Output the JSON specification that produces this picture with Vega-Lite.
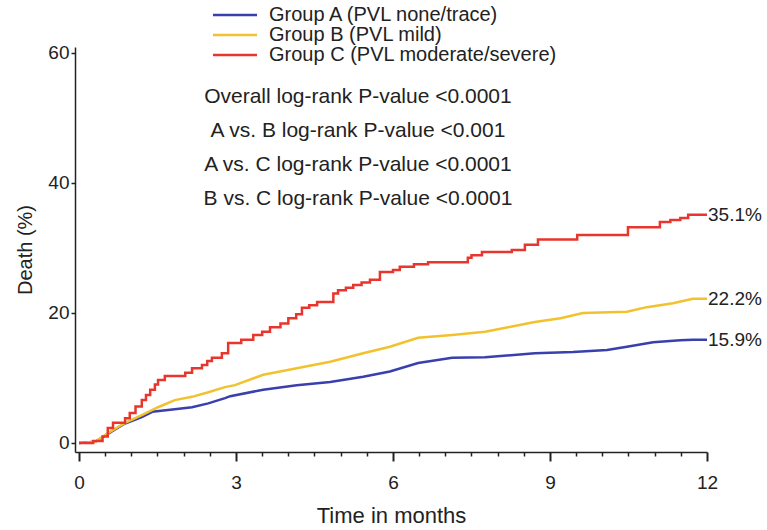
{
  "$schema": "https://vega.github.io/schema/vega-lite/v6.json",
  "width": 632,
  "height": 405,
  "autosize": "none",
  "padding": {"left": 75, "top": 47, "right": 60, "bottom": 78},
  "background": "white",
  "config": {
    "font": "Liberation Sans",
    "view": {"stroke": null},
    "axis": {"grid": false, "domainColor": "#222", "tickColor": "#222", "labelColor": "#222", "titleColor": "#222", "labelFontSize": 19, "titleFontSize": 20, "titleFontWeight": "normal", "domainWidth": 1.5}
  },
  "datasets": {
    "curves": [
      {"group": "Group A (PVL none/trace)", "month": 0, "pct": 0},
      {"group": "Group A (PVL none/trace)", "month": 0.31, "pct": 0.2},
      {"group": "Group A (PVL none/trace)", "month": 0.55, "pct": 1.4},
      {"group": "Group A (PVL none/trace)", "month": 0.88, "pct": 3.0},
      {"group": "Group A (PVL none/trace)", "month": 1.2, "pct": 4.0},
      {"group": "Group A (PVL none/trace)", "month": 1.4, "pct": 4.8},
      {"group": "Group A (PVL none/trace)", "month": 1.83, "pct": 5.2},
      {"group": "Group A (PVL none/trace)", "month": 2.16, "pct": 5.5},
      {"group": "Group A (PVL none/trace)", "month": 2.47, "pct": 6.1},
      {"group": "Group A (PVL none/trace)", "month": 2.79, "pct": 6.9},
      {"group": "Group A (PVL none/trace)", "month": 2.89, "pct": 7.2},
      {"group": "Group A (PVL none/trace)", "month": 3.52, "pct": 8.2},
      {"group": "Group A (PVL none/trace)", "month": 4.16, "pct": 8.9},
      {"group": "Group A (PVL none/trace)", "month": 4.8, "pct": 9.4},
      {"group": "Group A (PVL none/trace)", "month": 5.43, "pct": 10.2},
      {"group": "Group A (PVL none/trace)", "month": 5.94, "pct": 11.0},
      {"group": "Group A (PVL none/trace)", "month": 6.48, "pct": 12.3},
      {"group": "Group A (PVL none/trace)", "month": 7.13, "pct": 13.1},
      {"group": "Group A (PVL none/trace)", "month": 7.76, "pct": 13.2},
      {"group": "Group A (PVL none/trace)", "month": 8.71, "pct": 13.8},
      {"group": "Group A (PVL none/trace)", "month": 9.44, "pct": 14.0},
      {"group": "Group A (PVL none/trace)", "month": 10.09, "pct": 14.3},
      {"group": "Group A (PVL none/trace)", "month": 10.47, "pct": 14.8},
      {"group": "Group A (PVL none/trace)", "month": 10.97, "pct": 15.5},
      {"group": "Group A (PVL none/trace)", "month": 11.49, "pct": 15.8},
      {"group": "Group A (PVL none/trace)", "month": 11.73, "pct": 15.9},
      {"group": "Group A (PVL none/trace)", "month": 12, "pct": 15.9},
      {"group": "Group B (PVL mild)", "month": 0, "pct": 0},
      {"group": "Group B (PVL mild)", "month": 0.31, "pct": 0.2},
      {"group": "Group B (PVL mild)", "month": 0.55, "pct": 1.5},
      {"group": "Group B (PVL mild)", "month": 0.88, "pct": 3.1},
      {"group": "Group B (PVL mild)", "month": 1.2, "pct": 4.3},
      {"group": "Group B (PVL mild)", "month": 1.51, "pct": 5.5},
      {"group": "Group B (PVL mild)", "month": 1.83, "pct": 6.6},
      {"group": "Group B (PVL mild)", "month": 2.16, "pct": 7.1},
      {"group": "Group B (PVL mild)", "month": 2.47, "pct": 7.8},
      {"group": "Group B (PVL mild)", "month": 2.79, "pct": 8.6},
      {"group": "Group B (PVL mild)", "month": 2.98, "pct": 8.9},
      {"group": "Group B (PVL mild)", "month": 3.52, "pct": 10.5},
      {"group": "Group B (PVL mild)", "month": 4.16, "pct": 11.5},
      {"group": "Group B (PVL mild)", "month": 4.8, "pct": 12.5},
      {"group": "Group B (PVL mild)", "month": 5.43, "pct": 13.8},
      {"group": "Group B (PVL mild)", "month": 5.94, "pct": 14.8},
      {"group": "Group B (PVL mild)", "month": 6.48, "pct": 16.2},
      {"group": "Group B (PVL mild)", "month": 7.13, "pct": 16.6},
      {"group": "Group B (PVL mild)", "month": 7.76, "pct": 17.1},
      {"group": "Group B (PVL mild)", "month": 8.2, "pct": 17.8},
      {"group": "Group B (PVL mild)", "month": 8.71, "pct": 18.6},
      {"group": "Group B (PVL mild)", "month": 9.2, "pct": 19.2},
      {"group": "Group B (PVL mild)", "month": 9.63, "pct": 20.0},
      {"group": "Group B (PVL mild)", "month": 10.47, "pct": 20.2},
      {"group": "Group B (PVL mild)", "month": 10.85, "pct": 20.9},
      {"group": "Group B (PVL mild)", "month": 11.35, "pct": 21.5},
      {"group": "Group B (PVL mild)", "month": 11.73, "pct": 22.2},
      {"group": "Group B (PVL mild)", "month": 12, "pct": 22.2},
      {"group": "Group C (PVL moderate/severe)", "month": 0, "pct": 0},
      {"group": "Group C (PVL moderate/severe)", "month": 0.27, "pct": 0.3},
      {"group": "Group C (PVL moderate/severe)", "month": 0.45, "pct": 1.0},
      {"group": "Group C (PVL moderate/severe)", "month": 0.55, "pct": 2.3},
      {"group": "Group C (PVL moderate/severe)", "month": 0.65, "pct": 3.1},
      {"group": "Group C (PVL moderate/severe)", "month": 0.88, "pct": 3.8},
      {"group": "Group C (PVL moderate/severe)", "month": 0.97, "pct": 4.6},
      {"group": "Group C (PVL moderate/severe)", "month": 1.08, "pct": 5.6},
      {"group": "Group C (PVL moderate/severe)", "month": 1.2, "pct": 6.6},
      {"group": "Group C (PVL moderate/severe)", "month": 1.28, "pct": 7.4},
      {"group": "Group C (PVL moderate/severe)", "month": 1.36, "pct": 8.2},
      {"group": "Group C (PVL moderate/severe)", "month": 1.45, "pct": 9.0},
      {"group": "Group C (PVL moderate/severe)", "month": 1.51, "pct": 9.7},
      {"group": "Group C (PVL moderate/severe)", "month": 1.64, "pct": 10.3},
      {"group": "Group C (PVL moderate/severe)", "month": 2.03, "pct": 10.8},
      {"group": "Group C (PVL moderate/severe)", "month": 2.16, "pct": 11.5},
      {"group": "Group C (PVL moderate/severe)", "month": 2.35, "pct": 12.0},
      {"group": "Group C (PVL moderate/severe)", "month": 2.45, "pct": 12.6},
      {"group": "Group C (PVL moderate/severe)", "month": 2.54, "pct": 13.1},
      {"group": "Group C (PVL moderate/severe)", "month": 2.73, "pct": 13.8},
      {"group": "Group C (PVL moderate/severe)", "month": 2.85, "pct": 15.4},
      {"group": "Group C (PVL moderate/severe)", "month": 3.1, "pct": 15.9},
      {"group": "Group C (PVL moderate/severe)", "month": 3.33, "pct": 16.6},
      {"group": "Group C (PVL moderate/severe)", "month": 3.5, "pct": 17.1},
      {"group": "Group C (PVL moderate/severe)", "month": 3.65, "pct": 17.8},
      {"group": "Group C (PVL moderate/severe)", "month": 3.85, "pct": 18.4},
      {"group": "Group C (PVL moderate/severe)", "month": 4.0, "pct": 19.2},
      {"group": "Group C (PVL moderate/severe)", "month": 4.15, "pct": 19.8},
      {"group": "Group C (PVL moderate/severe)", "month": 4.26, "pct": 20.8},
      {"group": "Group C (PVL moderate/severe)", "month": 4.4, "pct": 21.2},
      {"group": "Group C (PVL moderate/severe)", "month": 4.55, "pct": 21.7},
      {"group": "Group C (PVL moderate/severe)", "month": 4.86, "pct": 23.0},
      {"group": "Group C (PVL moderate/severe)", "month": 4.95, "pct": 23.5},
      {"group": "Group C (PVL moderate/severe)", "month": 5.1, "pct": 23.9},
      {"group": "Group C (PVL moderate/severe)", "month": 5.24, "pct": 24.3},
      {"group": "Group C (PVL moderate/severe)", "month": 5.4, "pct": 24.7},
      {"group": "Group C (PVL moderate/severe)", "month": 5.56, "pct": 25.1},
      {"group": "Group C (PVL moderate/severe)", "month": 5.75, "pct": 26.3},
      {"group": "Group C (PVL moderate/severe)", "month": 6.0, "pct": 26.6},
      {"group": "Group C (PVL moderate/severe)", "month": 6.13, "pct": 27.1},
      {"group": "Group C (PVL moderate/severe)", "month": 6.4, "pct": 27.5},
      {"group": "Group C (PVL moderate/severe)", "month": 6.67, "pct": 27.8},
      {"group": "Group C (PVL moderate/severe)", "month": 7.43, "pct": 28.5},
      {"group": "Group C (PVL moderate/severe)", "month": 7.5, "pct": 28.9},
      {"group": "Group C (PVL moderate/severe)", "month": 7.7, "pct": 29.4},
      {"group": "Group C (PVL moderate/severe)", "month": 8.27, "pct": 29.7},
      {"group": "Group C (PVL moderate/severe)", "month": 8.52, "pct": 30.5},
      {"group": "Group C (PVL moderate/severe)", "month": 8.77, "pct": 31.3},
      {"group": "Group C (PVL moderate/severe)", "month": 9.52, "pct": 32.0},
      {"group": "Group C (PVL moderate/severe)", "month": 10.49, "pct": 33.2},
      {"group": "Group C (PVL moderate/severe)", "month": 11.1, "pct": 34.0},
      {"group": "Group C (PVL moderate/severe)", "month": 11.3, "pct": 34.3},
      {"group": "Group C (PVL moderate/severe)", "month": 11.49, "pct": 34.6},
      {"group": "Group C (PVL moderate/severe)", "month": 11.64, "pct": 35.1},
      {"group": "Group C (PVL moderate/severe)", "month": 12, "pct": 35.1}
    ],
    "stats": [
      {"month": 5.33, "pct": 53.2, "label": "Overall log-rank P-value <0.0001"},
      {"month": 5.33, "pct": 48.0, "label": "A vs. B log-rank P-value <0.001"},
      {"month": 5.33, "pct": 42.8, "label": "A vs. C log-rank P-value <0.0001"},
      {"month": 5.33, "pct": 37.5, "label": "B vs. C log-rank P-value <0.0001"}
    ],
    "ends": [
      {"month": 12, "pct": 35.1, "label": "35.1%"},
      {"month": 12, "pct": 22.2, "label": "22.2%"},
      {"month": 12, "pct": 15.9, "label": "15.9%"}
    ]
  },
  "encoding": {
    "x": {
      "field": "month", "type": "quantitative",
      "scale": {"domain": [-0.0764, 12], "nice": false, "zero": false},
      "axis": {
        "title": "Time in months",
        "titleFontSize": 22,
        "values": [0, 0.5, 1, 1.5, 2, 2.5, 3, 3.5, 4, 4.5, 5, 5.5, 6, 6.5, 7, 7.5, 8, 8.5, 9, 9.5, 10, 10.5, 11, 11.5, 12],
        "labelExpr": "datum.value % 3 === 0 ? '' + datum.value : ''",
        "tickSize": {"condition": {"test": "datum.value % 3 === 0", "value": 9}, "value": 4},
        "tickWidth": {"condition": {"test": "datum.value % 3 === 0", "value": 2}, "value": 1.5},
        "labelPadding": 12,
        "labelFlush": false,
        "labelOverlap": false,
        "titlePadding": 13
      }
    },
    "y": {
      "field": "pct", "type": "quantitative",
      "scale": {"domain": [-1.385, 60.92], "nice": false, "zero": false},
      "axis": {
        "title": "Death (%)",
        "values": [0, 20, 40, 60],
        "tickSize": 4,
        "tickWidth": 1.5,
        "labelPadding": 2,
        "titlePadding": 12
      }
    }
  },
  "layer": [
    {
      "data": {"name": "curves"},
      "transform": [{"filter": "datum.group !== 'Group C (PVL moderate/severe)'"}],
      "mark": {"type": "line", "strokeWidth": 2.5, "interpolate": "linear"},
      "encoding": {
        "color": {
          "field": "group", "type": "nominal",
          "scale": {"domain": ["Group A (PVL none/trace)", "Group B (PVL mild)", "Group C (PVL moderate/severe)"], "range": ["#3a3fae", "#f2c22e", "#e8352e"]},
          "legend": {
            "orient": "none", "legendX": 150, "legendY": -42, "title": null,
            "symbolType": "M-4,0H4", "symbolSize": 121, "symbolStrokeWidth": 2.5,
            "symbolFillColor": "transparent",
            "labelFontSize": 20, "labelOffset": 24, "rowPadding": 0, "labelColor": "#222",
            "labelLimit": 500
          }
        }
      }
    },
    {
      "data": {"name": "curves"},
      "transform": [{"filter": "datum.group === 'Group C (PVL moderate/severe)'"}],
      "mark": {"type": "line", "strokeWidth": 2.5, "interpolate": "step-after"},
      "encoding": {
        "color": {"field": "group", "type": "nominal"}
      }
    },
    {
      "data": {"name": "stats"},
      "mark": {"type": "text", "fontSize": 21, "align": "center", "baseline": "middle", "color": "#222"},
      "encoding": {"text": {"field": "label"}}
    },
    {
      "data": {"name": "ends"},
      "mark": {"type": "text", "fontSize": 19, "align": "left", "baseline": "middle", "dx": 1, "color": "#222"},
      "encoding": {"text": {"field": "label"}}
    }
  ]
}
